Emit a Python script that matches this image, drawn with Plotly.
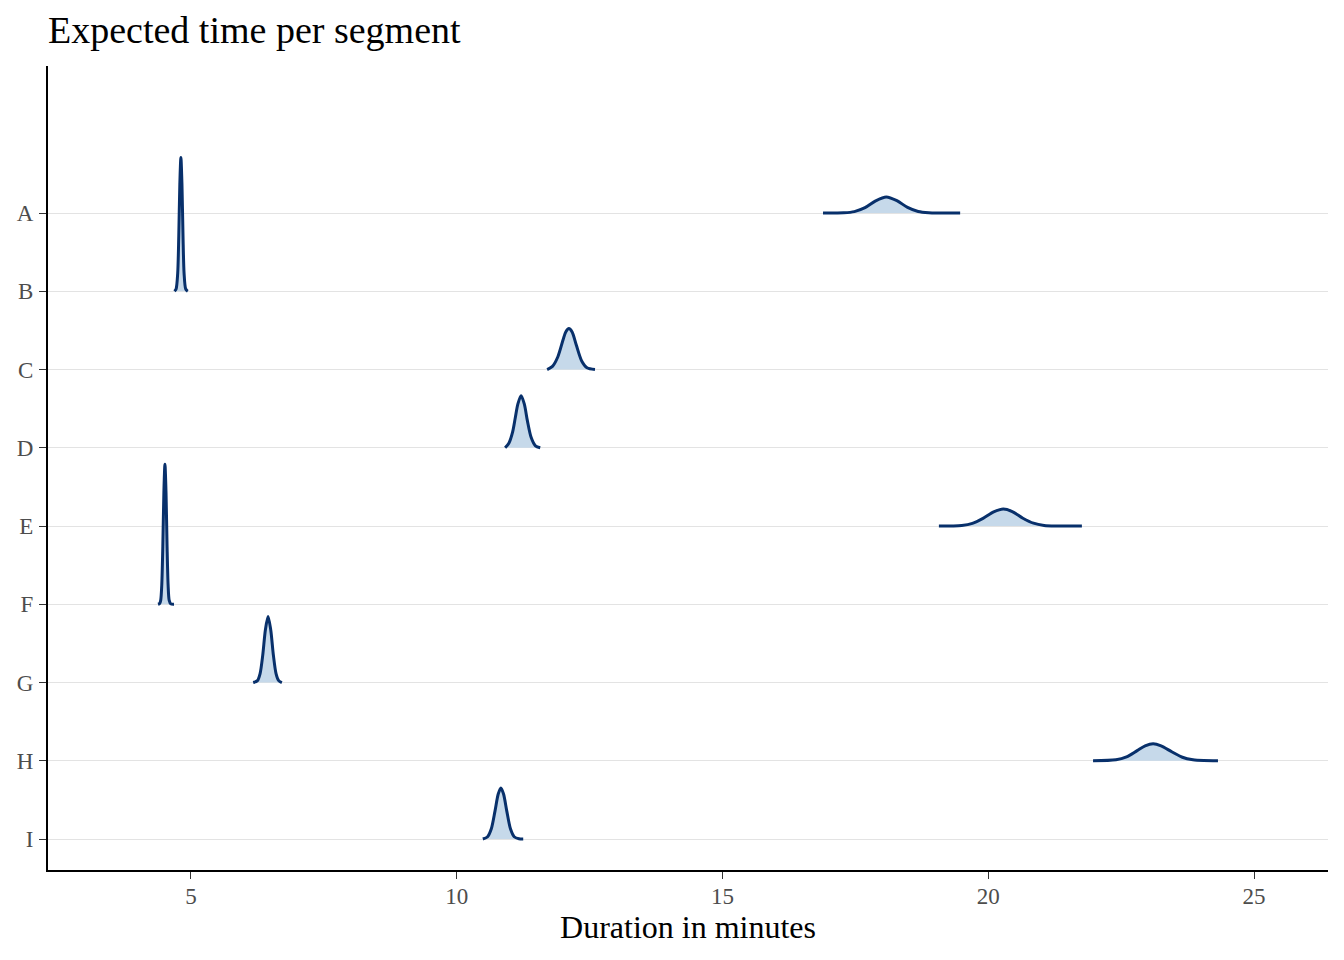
import plotly.graph_objects as go

# Segment labels, top to bottom
segments = ["A", "B", "C", "D", "E", "F", "G", "H", "I"]

# Density curves: x in minutes, height in row units
A_x = [16.89, 17.28, 17.48, 17.68, 17.88, 18.08, 18.28, 18.48, 18.68, 18.88, 19.08, 19.47]
A_h = [0.0, 0.003, 0.018, 0.068, 0.155, 0.205, 0.158, 0.072, 0.020, 0.004, 0.001, 0.0]

B_x = [4.69, 4.72, 4.75, 4.77, 4.79, 4.81, 4.83, 4.85, 4.87, 4.90, 4.93, 4.94]
B_h = [0.0, 0.03, 0.23, 0.70, 1.37, 1.71, 1.37, 0.70, 0.23, 0.03, 0.005, 0.0]

C_x = [11.70, 11.80, 11.90, 12.00, 12.05, 12.11, 12.17, 12.25, 12.35, 12.45, 12.60]
C_h = [0.0, 0.04, 0.16, 0.38, 0.48, 0.524, 0.48, 0.31, 0.11, 0.023, 0.0]

D_x = [10.91, 10.98, 11.05, 11.10, 11.15, 11.21, 11.27, 11.33, 11.40, 11.48, 11.57]
D_h = [0.0, 0.057, 0.20, 0.38, 0.56, 0.665, 0.56, 0.34, 0.13, 0.025, 0.0]

E_x = [19.07, 19.50, 19.70, 19.90, 20.10, 20.28, 20.45, 20.65, 20.85, 21.05, 21.30, 21.76]
E_h = [0.0, 0.007, 0.033, 0.097, 0.18, 0.217, 0.185, 0.10, 0.036, 0.008, 0.001, 0.0]

F_x = [4.38, 4.41, 4.43, 4.45, 4.47, 4.49, 4.51, 4.53, 4.55, 4.57, 4.59, 4.62, 4.68]
F_h = [0.0, 0.01, 0.05, 0.24, 0.74, 1.43, 1.79, 1.43, 0.74, 0.24, 0.05, 0.005, 0.0]

G_x = [6.17, 6.25, 6.30, 6.35, 6.40, 6.45, 6.50, 6.55, 6.60, 6.65, 6.71]
G_h = [0.0, 0.024, 0.114, 0.35, 0.675, 0.843, 0.675, 0.35, 0.114, 0.024, 0.0]

H_x = [21.97, 22.40, 22.60, 22.80, 22.95, 23.10, 23.25, 23.45, 23.65, 23.85, 24.05, 24.32]
H_h = [0.0, 0.012, 0.05, 0.13, 0.19, 0.217, 0.19, 0.115, 0.045, 0.012, 0.002, 0.0]

I_x = [10.49, 10.58, 10.65, 10.72, 10.78, 10.83, 10.88, 10.94, 11.01, 11.08, 11.17, 11.25]
I_h = [0.0, 0.029, 0.13, 0.36, 0.575, 0.652, 0.575, 0.36, 0.13, 0.029, 0.003, 0.0]

curves = {
    "A": (A_x, A_h), "B": (B_x, B_h), "C": (C_x, C_h), "D": (D_x, D_h),
    "E": (E_x, E_h), "F": (F_x, F_h), "G": (G_x, G_h), "H": (H_x, H_h),
    "I": (I_x, I_h),
}

x_ticks = [5, 10, 15, 20, 25]

LINE = "#08306b"
FILL = "#c6d9ea"
FONT = "Liberation Serif"

n = len(segments)
base_of = {s: n - i for i, s in enumerate(segments)}  # A -> 9 ... I -> 1

fig = go.Figure()
for s in segments:
    xs, hs = curves[s]
    b = base_of[s]
    fig.add_trace(go.Scatter(x=xs, y=[b] * len(xs), mode="lines",
                             line=dict(width=0, color=LINE), hoverinfo="skip",
                             showlegend=False))
    fig.add_trace(go.Scatter(x=xs, y=[b + h for h in hs], mode="lines",
                             fill="tonexty", fillcolor=FILL,
                             line=dict(color=LINE, width=3, shape="spline", smoothing=0.8),
                             name=s, showlegend=False))

fig.update_layout(
    width=1344, height=960,
    margin=dict(l=40, r=24, t=58, b=98),
    paper_bgcolor="white", plot_bgcolor="white",
    font=dict(family=FONT, color="#000000"),
    title=dict(text="Expected time per segment", x=0, xref="paper", xanchor="left",
               y=1 - 22 / 960, yref="container", yanchor="middle",
               font=dict(size=38, family=FONT, color="#000000")),
    xaxis=dict(range=[2.31, 26.39], tickvals=x_ticks, ticktext=[str(v) for v in x_ticks],
               showgrid=False, zeroline=False, automargin=False,
               showline=True, linecolor="#000000", linewidth=2,
               ticks="outside", ticklen=7, tickwidth=1.2, tickcolor="#333333",
               ticklabelstandoff=-3,
               tickfont=dict(size=23, color="#4d4d4d", family=FONT),
               title=dict(text="Duration in minutes", standoff=2,
                          font=dict(size=32, color="#000000", family=FONT))),
    yaxis=dict(range=[0.604, 10.879], tickvals=[base_of[s] for s in segments], ticktext=segments,
               showgrid=True, gridcolor="#e3e3e3", gridwidth=1, zeroline=False, automargin=False,
               showline=True, linecolor="#000000", linewidth=2,
               ticks="outside", ticklen=7, tickwidth=1.2, tickcolor="#333333",
               ticklabelstandoff=1,
               tickfont=dict(size=23, color="#4d4d4d", family=FONT)),
)

fig.write_html("out.html")
